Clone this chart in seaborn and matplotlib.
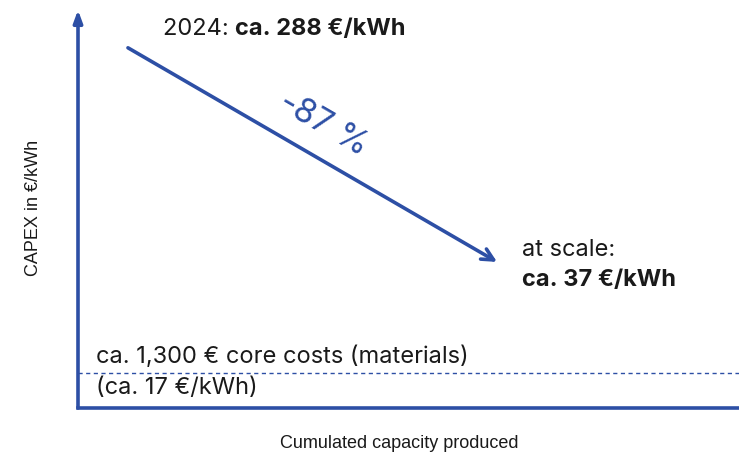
import matplotlib
matplotlib.use("Agg")
import matplotlib.pyplot as plt
import seaborn as sns

sns.set_theme(style="white")
plt.rcParams['font.family'] = ['Inter', 'DejaVu Sans']

# values (€/kWh)
cost_2024 = 288
cost_scale = 37
cost_core = 17
core_cost_eur = "1,300"
reduction_pct = -87

# schematic positions (not to scale) in axes units
arrow_x = [0.0756, 0.634]
arrow_y = [0.905, 0.367]
core_y = 0.088

blue = "#2D4FA5"
txt = "#1a1a1a"
fs = 17

fig = plt.figure(figsize=(7.39, 4.55), dpi=100)
W, H = 739, 455
ax = fig.add_axes([78 / W, (H - 408) / H, (W - 78) / W, (408 - 10) / H])
ax.set_xlim(0, 1)
ax.set_ylim(0, 1)
ax.set_xticks([])
ax.set_yticks([])
for s in ["top", "right", "left"]:
    ax.spines[s].set_visible(False)
ax.spines["bottom"].set_color(blue)
ax.spines["bottom"].set_linewidth(2.6)

# y axis arrow
ax.annotate("", xy=(0, 1.0), xytext=(0, 0), xycoords="axes fraction",
            arrowprops=dict(arrowstyle="-|>,head_length=0.6,head_width=0.22",
                            color=blue, lw=2.6, shrinkA=0, shrinkB=0),
            annotation_clip=False)

# main trend arrow
ax.annotate("", xy=(arrow_x[1], arrow_y[1]), xytext=(arrow_x[0], arrow_y[0]),
            arrowprops=dict(arrowstyle="->,head_length=0.7,head_width=0.35",
                            color=blue, lw=2.6, shrinkA=0, shrinkB=0))

t1 = ax.text(0.1286, 0.952, "2024: ", fontsize=fs, color=txt, va="center", ha="left")
fig.canvas.draw()
bb = t1.get_window_extent()
x_after = ax.transAxes.inverted().transform((bb.x1, bb.y0))[0]
ax.text(x_after, 0.952, f"ca. {cost_2024} €/kWh", fontsize=fs, color=txt,
        fontweight="bold", va="center", ha="left")

ax.text(0.372, 0.712, f"{reduction_pct} %", fontsize=24, color=blue,
        rotation=-30, va="center", ha="center", rotation_mode="anchor")

ax.text(0.672, 0.397, "at scale:", fontsize=fs, color=txt, va="center", ha="left")
ax.text(0.672, 0.322, f"ca. {cost_scale} €/kWh", fontsize=fs, color=txt,
        fontweight="bold", va="center", ha="left")

ax.axhline(core_y, color=blue, lw=1.0, ls=(0, (3, 2.5)))
ax.text(0.027, 0.128, f"ca. {core_cost_eur} € core costs (materials)", fontsize=fs,
        color=txt, va="center", ha="left")
ax.text(0.027, 0.05, f"(ca. {cost_core} €/kWh)", fontsize=fs, color=txt,
        va="center", ha="left")

fig.text(33 / W, 1 - 208 / H, "CAPEX in €/kWh", rotation=90, fontsize=13,
         color=txt, va="center", ha="center", family=['Liberation Sans', 'DejaVu Sans'])
fig.text(399 / W, 1 - 443 / H, "Cumulated capacity produced", fontsize=13,
         color=txt, va="center", ha="center", family=['Liberation Sans', 'DejaVu Sans'])

fig.savefig("out.png", dpi=100)
